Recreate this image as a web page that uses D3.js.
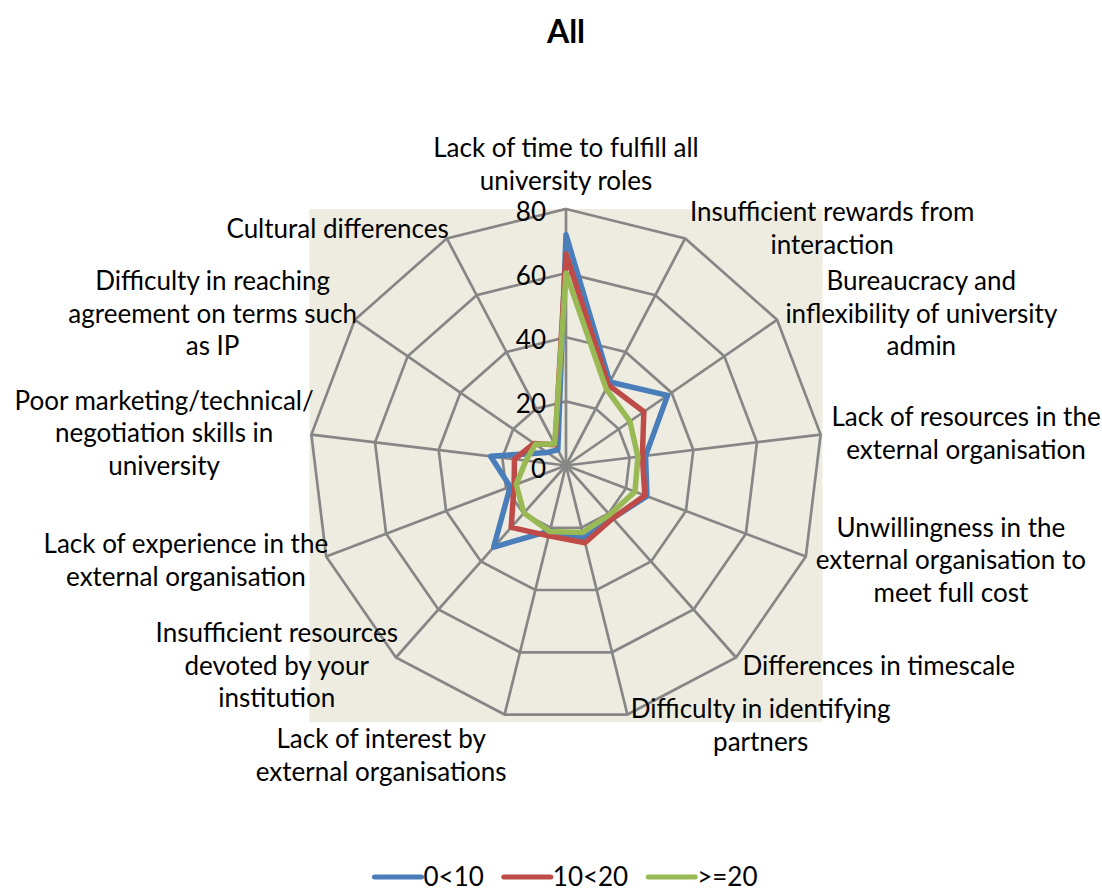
<!DOCTYPE html>
<html>
<head>
<meta charset="utf-8">
<script src="https://cdn.jsdelivr.net/npm/d3@7"></script>
<style>
  body { margin: 0; background: #fff; }
  text { font-family: Lato, "Open Sans", sans-serif; fill: #000; }
</style>
</head>
<body>
<svg id="chart" width="1102" height="891"></svg>
<script>
// categories, clockwise from the top, split into the lines the labels wrap to
const categories = [
  ["Lack of time to fulfill all", "university roles"],
  ["Insufficient rewards from", "interaction"],
  ["Bureaucracy and", "inflexibility of university", "admin"],
  ["Lack of resources in the", "external organisation"],
  ["Unwillingness in the", "external organisation to", "meet full cost"],
  ["Differences in timescale"],
  ["Difficulty in identifying", "partners"],
  ["Lack of interest by", "external organisations"],
  ["Insufficient resources", "devoted by your", "institution"],
  ["Lack of experience in the", "external organisation"],
  ["Poor marketing/technical/", "negotiation skills in", "university"],
  ["Difficulty in reaching", "agreement on terms such", "as IP"],
  ["Cultural differences"]
];

const seriesNames = ["0<10", "10<20", ">=20"];
const seriesColors = ["#4A7EBB", "#BE4B48", "#98B954"];

const under10 = [72, 29.4, 38.5, 25, 27, 22, 23.3, 21, 34, 18.6, 23.7, 7.2, 5.5];
const from10to20 = [66, 28.4, 29.5, 24, 26.3, 22, 24.8, 22.6, 25.8, 17.3, 16.2, 12.1, 7.3];
const over20 = [60, 27, 24.2, 22.6, 23, 20.5, 21.5, 21.2, 19.8, 16.6, 12.6, 11.6, 7.6];
const seriesValues = [under10, from10to20, over20];

const ticks = [0, 20, 40, 60, 80];

const width = 1102, height = 891;
const cx = 566, cy = 465.5, R = 256.5;
const fs = 26, lineH = 32.5;
const gridColor = "#868686";

const svg = d3.select("#chart");
const r = d3.scaleLinear().domain([0, 80]).range([0, R]);
const n = categories.length;
const angle = i => i * 2 * Math.PI / n;
const pt = (i, v) => [cx + r(v) * Math.sin(angle(i)), cy - r(v) * Math.cos(angle(i))];

// plot area
svg.append("rect")
  .attr("x", cx - R).attr("y", cy - R)
  .attr("width", 2 * R).attr("height", 2 * R)
  .attr("fill", "#EEECE1");

const g = svg.append("g").attr("transform", `translate(${cx},${cy})`);

const ring = d3.lineRadial()
  .angle((d, i) => angle(i))
  .radius(d => r(d))
  .curve(d3.curveLinearClosed);

// rings
g.append("g").selectAll("path")
  .data(ticks.filter(t => t > 0))
  .enter().append("path")
  .attr("d", t => ring(categories.map(() => t)))
  .attr("fill", "none")
  .attr("stroke", gridColor)
  .attr("stroke-width", 2.7);

// spokes
g.append("g").selectAll("line")
  .data(categories)
  .enter().append("line")
  .attr("x1", 0).attr("y1", 0)
  .attr("x2", (d, i) => r(80) * Math.sin(angle(i)))
  .attr("y2", (d, i) => -r(80) * Math.cos(angle(i)))
  .attr("stroke", gridColor)
  .attr("stroke-width", 2.7);

// series
g.append("g").selectAll("path")
  .data(seriesValues)
  .enter().append("path")
  .attr("d", d => ring(d))
  .attr("fill", "none")
  .attr("stroke", (d, i) => seriesColors[i])
  .attr("stroke-width", 5.5)
  .attr("stroke-linejoin", "round");

// tick labels
svg.append("g").selectAll("text")
  .data(ticks)
  .enter().append("text")
  .attr("x", cx - 20)
  .attr("y", t => cy - r(t) + 3)
  .attr("dy", "0.35em")
  .attr("text-anchor", "end")
  .style("font-size", fs + "px")
  .text(t => t);

// category labels
const labelShift = {7: 30};
categories.forEach((lines, i) => {
  const s = Math.sin(angle(i)), c = Math.cos(angle(i));
  const [vx, vy] = pt(i, 80);
  const t = svg.append("text")
    .attr("text-anchor", "middle")
    .style("font-size", fs + "px");
  const spans = lines.map((l, j) => t.append("tspan").text(l));
  const w = d3.max(spans, sp => sp.node().getComputedTextLength());
  const h = lines.length * lineH;
  let mx, my;
  if (Math.abs(s) < 0.05) {
    mx = vx;
    my = c > 0 ? vy - 12 - h / 2 : vy + 12 + h / 2;
  } else {
    mx = s > 0 ? vx + 3 + 8 * s * s + w / 2 : vx + 2 - w / 2;
    my = vy - c * 11 + (labelShift[i] || 0);
  }
  spans.forEach((sp, j) => sp
    .attr("x", mx)
    .attr("y", my - h / 2 + lineH / 2 + j * lineH)
    .attr("dy", "0.35em"));
});

// title
svg.append("text")
  .attr("x", cx).attr("y", 32)
  .attr("dy", "0.35em")
  .attr("text-anchor", "middle")
  .style("font-size", "32px")
  .style("font-weight", "bold")
  .text("All");

// legend
const legend = svg.append("g");
let lx = 0;
seriesNames.forEach((name, i) => {
  legend.append("line")
    .attr("x1", lx).attr("x2", lx + 47)
    .attr("y1", 0).attr("y2", 0)
    .attr("stroke", seriesColors[i])
    .attr("stroke-width", 5)
    .attr("stroke-linecap", "round");
  const t = legend.append("text")
    .attr("x", lx + 49).attr("y", 0)
    .attr("dy", "0.35em")
    .style("font-size", fs + "px")
    .text(name);
  lx += 49 + t.node().getComputedTextLength() + 20;
});
legend.attr("transform", `translate(${cx - (lx - 20) / 2},877)`);
</script>
</body>
</html>
